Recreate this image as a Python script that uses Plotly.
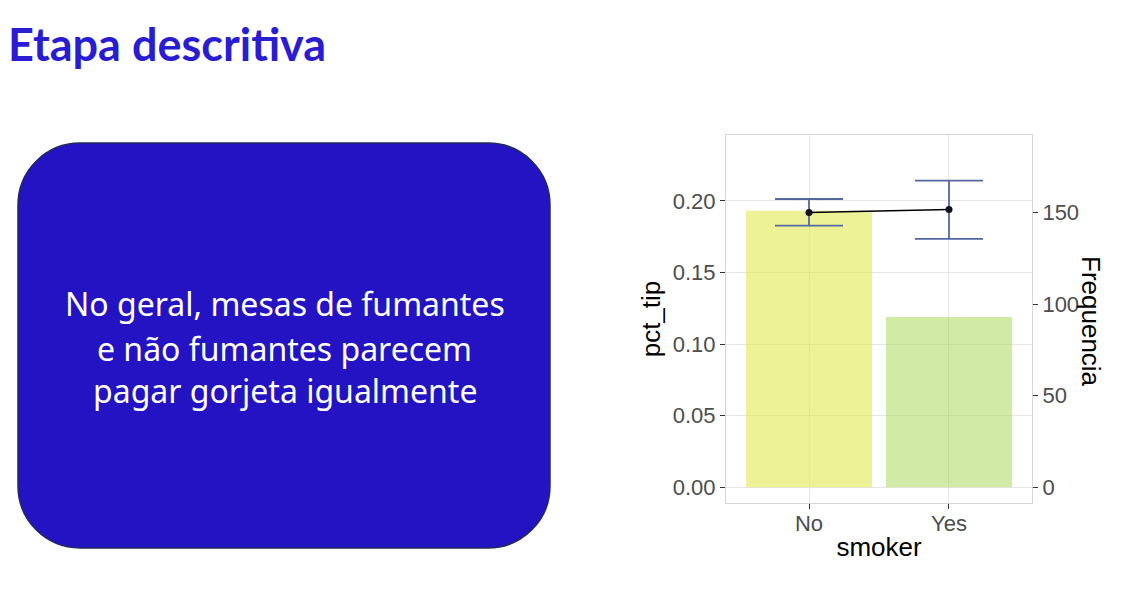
import plotly.graph_objects as go

W, H = 1121, 600

# ---- data ----
categories = ["No", "Yes"]
frequency = [151, 93]
pct_tip_mean = [0.192, 0.194]
pct_tip_upper = [0.2014, 0.2142]
pct_tip_lower = [0.1828, 0.1735]
left_ticks = [0.00, 0.05, 0.10, 0.15, 0.20]
right_ticks = [0, 50, 100, 150]
bar_colors = ["rgba(221,229,45,0.5)", "rgba(161,215,75,0.5)"]

title_text = "Etapa descritiva"
box_lines = ["No geral, mesas de fumantes",
             "e não fumantes parecem",
             "pagar gorjeta igualmente"]


def px(x):
    return x / W


def py(y):
    return 1 - y / H


fig = go.Figure()

# bars on the base axis (right side: Frequencia)
fig.add_trace(go.Bar(
    x=categories, y=frequency, yaxis="y", width=0.9,
    marker=dict(color=bar_colors, line=dict(width=0)),
    showlegend=False, hoverinfo="skip"))

# mean pct_tip with error bars on overlaid left axis
fig.add_trace(go.Scatter(
    x=categories, y=pct_tip_mean, yaxis="y2", mode="lines+markers",
    line=dict(color="black", width=1.6),
    marker=dict(color="#111122", size=7),
    error_y=dict(type="data", symmetric=False,
                 array=[u - m for u, m in zip(pct_tip_upper, pct_tip_mean)],
                 arrayminus=[m - l for m, l in zip(pct_tip_mean, pct_tip_lower)],
                 color="#5468A0", thickness=1.8, width=34),
    showlegend=False))

# panel pixel bounds
L, R, T, B = 726, 1032, 135, 503

tickfont = dict(family="Liberation Sans, Arial, sans-serif", size=22, color="#4D4D4D")
titlefont = dict(family="Liberation Sans, Arial, sans-serif", size=26, color="black")

fig.update_layout(
    width=W, height=H,
    margin=dict(l=0, r=0, t=0, b=0),
    paper_bgcolor="white", plot_bgcolor="white",
    xaxis=dict(domain=[px(L), px(R)], type="category", range=[-0.593, 1.593],
               showgrid=True, gridcolor="#E6E6E6", gridwidth=1,
               showline=True, linecolor="#D6D6D6", linewidth=1, mirror=True,
               ticks="outside", ticklen=5, tickcolor="#333333", tickwidth=1.2,
               tickfont=tickfont, ticklabelstandoff=-4,
               title=dict(text="smoker", font=titlefont, standoff=2),
               zeroline=False),
    yaxis=dict(domain=[py(B), py(T)], side="right", range=[-8.6, 192.4],
               tickvals=right_ticks, showgrid=False, zeroline=False,
               showline=True, linecolor="#D6D6D6", linewidth=1, mirror=True,
               ticks="outside", ticklen=5, tickcolor="#333333", tickwidth=1.2,
               tickfont=tickfont),
    yaxis2=dict(overlaying="y", side="left", range=[-0.011, 0.2461],
                tickvals=left_ticks, tickformat=".2f",
                showgrid=True, gridcolor="#E6E6E6", gridwidth=1,
                showline=False, zeroline=False,
                ticks="outside", ticklen=5, tickcolor="#333333", tickwidth=1.2,
                tickfont=tickfont,
                title=dict(text="pct_tip", font=titlefont, standoff=4)),
)

# right-axis title reading top-to-bottom
fig.add_annotation(text="Frequencia", xref="paper", yref="paper",
                   x=px(1091), y=py(321), showarrow=False, textangle=90,
                   font=titlefont, xanchor="center", yanchor="middle")

# page title
fig.add_annotation(text="<b>" + title_text + "</b>", xref="paper", yref="paper",
                   x=px(6), y=py(44), showarrow=False, xanchor="left", yanchor="middle",
                   font=dict(family="Lato, sans-serif", size=45, color="#2A1CD2"))

# rounded box
bx0, bx1, by0, by1, r = 18, 550, 143, 548, 62
k = 0.5523 * r
pts = [
    ("M", [(bx0 + r, by0)]),
    ("L", [(bx1 - r, by0)]),
    ("C", [(bx1 - r + k, by0), (bx1, by0 + r - k), (bx1, by0 + r)]),
    ("L", [(bx1, by1 - r)]),
    ("C", [(bx1, by1 - r + k), (bx1 - r + k, by1), (bx1 - r, by1)]),
    ("L", [(bx0 + r, by1)]),
    ("C", [(bx0 + r - k, by1), (bx0, by1 - r + k), (bx0, by1 - r)]),
    ("L", [(bx0, by0 + r)]),
    ("C", [(bx0, by0 + r - k), (bx0 + r - k, by0), (bx0 + r, by0)]),
]
path = ""
for cmd, cps in pts:
    path += cmd + " " + " ".join(f"{px(a):.6f},{py(b):.6f}" for a, b in cps) + " "
path += "Z"
fig.add_shape(type="path", xref="paper", yref="paper", path=path,
              fillcolor="#2313C2", line=dict(color="#1E2A5C", width=1.5), layer="below")

line_y = [303, 348, 391]
for txt, yy in zip(box_lines, line_y):
    fig.add_annotation(text=txt, xref="paper", yref="paper", x=px(284.5), y=py(yy),
                       showarrow=False, xanchor="center", yanchor="middle",
                       font=dict(family="Noto Sans, sans-serif", size=32, color="white"))

fig.write_html("out.html")
